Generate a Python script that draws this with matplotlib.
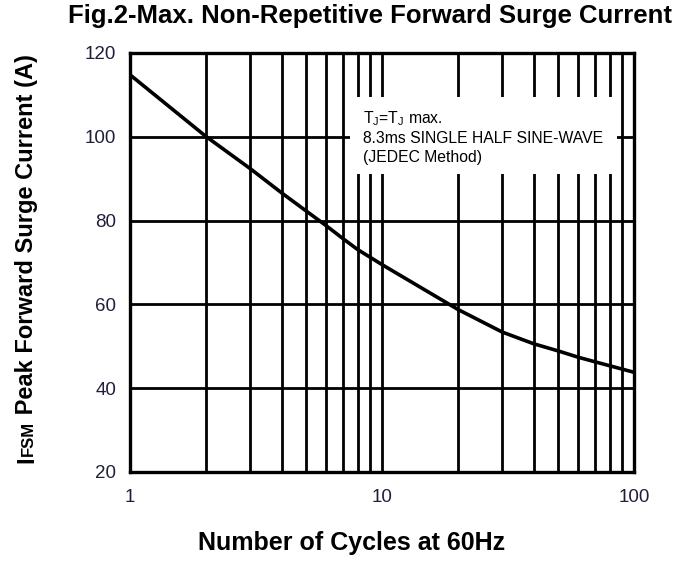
import matplotlib.pyplot as plt
from matplotlib import font_manager
from matplotlib.ticker import FixedLocator, NullFormatter

plt.rcParams['font.family'] = ['Liberation Sans', 'DejaVu Sans']
plt.rcParams['mathtext.fontset'] = 'custom'
plt.rcParams['mathtext.rm'] = 'Liberation Sans'
plt.rcParams['mathtext.bf'] = 'Liberation Sans:bold'

# curve
cycles = [1, 2, 3, 4, 5, 6, 7, 8, 9, 10, 20, 30, 40, 50, 60, 70, 100]
surge_current = [114.8, 100.1, 92.4, 86.6, 82.3, 78.8, 75.7, 73.1, 71.2, 69.5,
                 58.8, 53.4, 50.6, 48.9, 47.4, 46.3, 43.8]

x_ticks = [1, 10, 100]
y_ticks = [20, 40, 60, 80, 100, 120]
note = "T$_\\mathregular{J}$=T$_\\mathregular{J}$ max.\n8.3ms SINGLE HALF SINE-WAVE\n(JEDEC Method)"
ylabel_parts = [("I", 17), ("FSM", 12), (" Peak Forward Surge Current (A)", 17)]

W, H = 690, 562
fig = plt.figure(figsize=(W / 100, H / 100), dpi=100)
ax = fig.add_axes([130 / W, 1 - 472 / H, 504 / W, 419 / H])

ax.plot(cycles, surge_current, color="black", lw=2.6, zorder=3)
ax.set_xscale("log")
ax.set_xlim(1, 100)
ax.set_ylim(20, 120)

ax.xaxis.set_major_locator(FixedLocator(x_ticks))
ax.xaxis.set_minor_locator(FixedLocator([m * d for d in (1, 10) for m in range(2, 10)]))
ax.xaxis.set_minor_formatter(NullFormatter())
ax.set_xticklabels([str(t) for t in x_ticks])
ax.set_yticks(y_ticks)
ax.tick_params(which="both", length=0, labelsize=13.5, colors="#1f1f3a")
ax.tick_params(axis="x", pad=12)
ax.tick_params(axis="y", pad=10)

ax.grid(True, which="both", axis="x", color="black", lw=2.0)
ax.grid(True, which="major", axis="y", color="black", lw=2.0)
for s in ax.spines.values():
    s.set_linewidth(2.4)

# white box hiding the grid behind the note
ax.fill_between([7.45, 86], 91.2, 109.4, color="white", lw=0, zorder=2.5)
names = {f.name for f in font_manager.fontManager.ttflist}
if "Liberation Sans Narrow" in names:
    note_font, note_size = "Liberation Sans Narrow", 13.5
else:
    note_font, note_size = "Liberation Sans", 11.3
ax.text(8.4, 100, note, fontsize=note_size, va="center", ha="left",
        family=[note_font, "DejaVu Sans"], linespacing=1.3, zorder=4)

fig.text(370 / W, 1 - 16 / H, "Fig.2-Max. Non-Repetitive Forward Surge Current",
         fontsize=18.5, fontweight="bold", ha="center", va="center")
fig.text(352 / W, 1 - 543 / H, "Number of Cycles at 60Hz",
         fontsize=18, fontweight="bold", ha="center", va="center")

# y label: big "I", smaller "FSM" on the same baseline, then the rest
renderer = fig.canvas.get_renderer()
y_px = 463
for part, size in ylabel_parts:
    t = fig.text(33 / W, 1 - y_px / H, part, fontsize=size, fontweight="bold",
                 rotation=90, rotation_mode="anchor", ha="left", va="baseline")
    bb = t.get_window_extent(renderer)
    y_px -= bb.height

fig.savefig("out.png", dpi=100)
